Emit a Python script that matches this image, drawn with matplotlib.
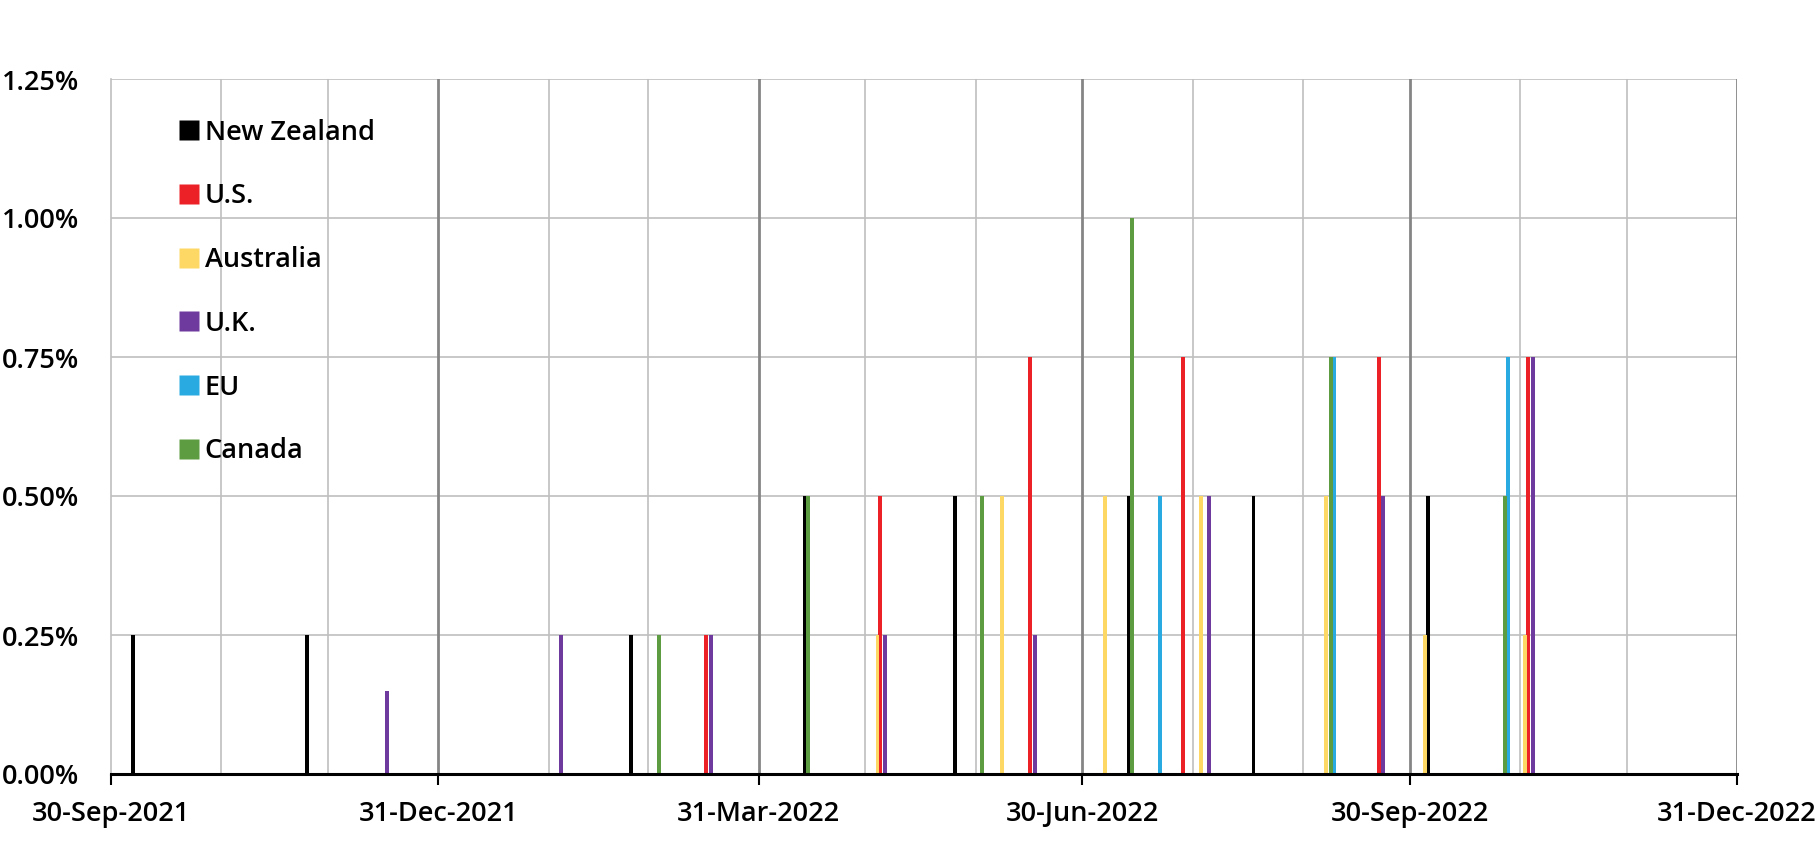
import matplotlib
matplotlib.use("Agg")
import matplotlib.pyplot as plt
import matplotlib.dates as mdates
import matplotlib.ticker as mticker
from matplotlib.lines import Line2D
import pandas as pd

# ---------------- data ----------------
series_names = ["New Zealand", "U.S.", "Australia", "U.K.", "EU", "Canada"]

nz_dates = ["2021-10-06", "2021-11-24", "2022-02-23", "2022-04-13", "2022-05-25",
            "2022-07-13", "2022-08-17", "2022-10-05"]
nz_hikes = [0.25, 0.25, 0.25, 0.50, 0.50, 0.50, 0.50, 0.50]

us_dates = ["2022-03-16", "2022-05-04", "2022-06-15", "2022-07-28", "2022-09-21", "2022-11-02"]
us_hikes = [0.25, 0.50, 0.75, 0.75, 0.75, 0.75]

au_dates = ["2022-05-03", "2022-06-07", "2022-07-06", "2022-08-02", "2022-09-06",
            "2022-10-04", "2022-11-01"]
au_hikes = [0.25, 0.50, 0.50, 0.50, 0.50, 0.25, 0.25]

uk_dates = ["2021-12-16", "2022-02-03", "2022-03-17", "2022-05-05", "2022-06-16",
            "2022-08-04", "2022-09-22", "2022-11-03"]
uk_hikes = [0.15, 0.25, 0.25, 0.25, 0.25, 0.50, 0.50, 0.75]

eu_dates = ["2022-07-21", "2022-09-08", "2022-10-27"]
eu_hikes = [0.50, 0.75, 0.75]

ca_dates = ["2022-03-02", "2022-04-13", "2022-06-01", "2022-07-13", "2022-09-07", "2022-10-26"]
ca_hikes = [0.25, 0.50, 0.50, 1.00, 0.75, 0.50]

x_start = "2021-09-30"
x_end = "2022-12-31"
y_ticks = [0.0, 0.25, 0.50, 0.75, 1.00, 1.25]

# ---------------- style ----------------
colors = ["#000000", "#ec2027", "#fdd865", "#6f3a9e", "#29abe2", "#5e9c41"]
offsets = [0.10, 0.26, 0.42, 0.58, 0.74, 0.90]   # cluster position inside the day slot
bar_width = 1.1

plt.rcParams["font.family"] = ["Open Sans", "DejaVu Sans"]
plt.rcParams["font.weight"] = 600
FS = 19.5

fig = plt.figure(figsize=(18.19, 8.56), dpi=100)
ax = fig.add_axes([111 / 1819, 1 - 774 / 856, (1737 - 111) / 1819, (774 - 79) / 856])

all_dates = [nz_dates, us_dates, au_dates, uk_dates, eu_dates, ca_dates]
all_hikes = [nz_hikes, us_hikes, au_hikes, uk_hikes, eu_hikes, ca_hikes]

for name, d, h, c, off in zip(series_names, all_dates, all_hikes, colors, offsets):
    xs = mdates.date2num(pd.to_datetime(d).to_pydatetime()) + off
    ax.bar(xs, h, width=bar_width, color=c, linewidth=0, zorder=3)

x0 = mdates.date2num(pd.Timestamp(x_start).to_pydatetime())
x1 = mdates.date2num(pd.Timestamp(x_end).to_pydatetime())
ax.set_xlim(x0, x1)
ax.set_ylim(0, 1.25)

# month-end ticks
try:
    month_ends = pd.date_range(x_start, x_end, freq="ME")
except Exception:
    month_ends = pd.date_range(x_start, x_end, freq="M")
month_nums = [mdates.date2num(t.to_pydatetime()) for t in month_ends]
major = [m for t, m in zip(month_ends, month_nums) if t.month in (3, 6, 9, 12)]
minor = [m for t, m in zip(month_ends, month_nums) if t.month not in (3, 6, 9, 12)]

ax.set_xticks(major)
ax.set_xticks(minor, minor=True)
ax.xaxis.set_major_formatter(mdates.DateFormatter("%d-%b-%Y"))

# gridlines
for m in minor:
    ax.axvline(m, color="#bfbfbf", lw=1.2, zorder=1)
for m in major[1:]:
    ax.axvline(m, color="#858585", lw=2.0, zorder=1)
ax.set_yticks(y_ticks)
ax.yaxis.set_major_formatter(mticker.FuncFormatter(lambda v, p: f"{v:.2f}%"))
ax.grid(axis="y", color="#bfbfbf", lw=1.2, zorder=1)
ax.set_axisbelow(True)

for s in ["top", "right"]:
    ax.spines[s].set_visible(False)
ax.spines["left"].set_color("#bfbfbf")
ax.spines["left"].set_linewidth(1.2)
ax.spines["bottom"].set_color("black")
ax.spines["bottom"].set_linewidth(2.2)
ax.spines["bottom"].set_zorder(5)

ax.tick_params(axis="x", which="major", direction="out", length=8, width=1.5,
               color="black", pad=11, labelsize=FS)
ax.tick_params(axis="x", which="minor", length=0)
ax.tick_params(axis="y", length=0, pad=23, labelsize=FS)

handles = [Line2D([], [], linestyle="none", marker="s", markersize=14.0,
                  markerfacecolor=c, markeredgecolor="none", label=n)
           for n, c in zip(series_names, colors)]
leg = ax.legend(handles=handles, loc="upper left", bbox_to_anchor=(0.0412, 0.943),
                frameon=False, fontsize=FS, handlelength=0.78, handleheight=0.7,
                handletextpad=0.2, labelspacing=1.32, borderpad=0, borderaxespad=0)

fig.savefig("out.png", dpi=100)
